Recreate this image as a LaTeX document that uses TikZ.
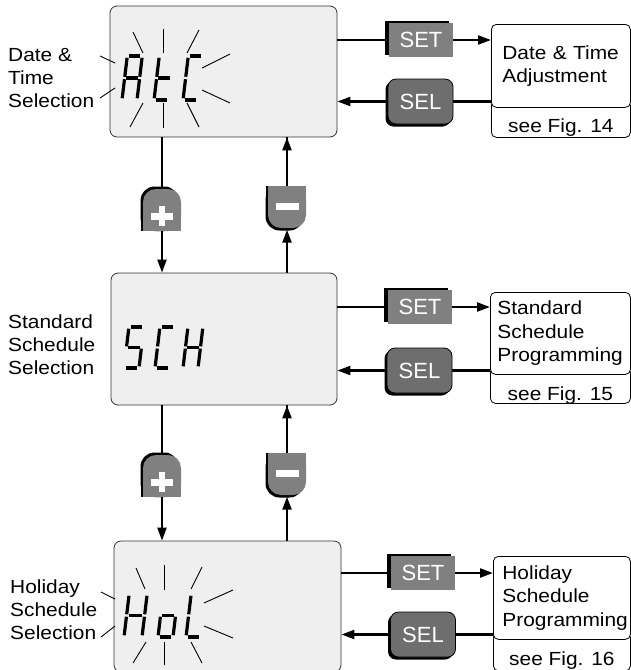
\documentclass[tikz,border=0pt]{standalone}
\usepackage{fontspec}
\setmainfont{Liberation Sans}
\newfontfamily\labfont{Liberation Sans}[FakeStretch=1.1]
\usetikzlibrary{arrows.meta,shadows}
\definecolor{lcdfill}{HTML}{EFEFEF}
\definecolor{btngray}{HTML}{808080}
\definecolor{selgray}{HTML}{6E6E6E}
% seven-segment pieces (local cell 15 x 44, y up = negative)
\newcommand{\segA}{\draw[seg] (1.8,-44) -- (13.2,-44);}
\newcommand{\segB}{\draw[seg] (15,-42.2) -- (15,-23.2);}
\newcommand{\segC}{\draw[seg] (15,-20.8) -- (15,-1.8);}
\newcommand{\segD}{\draw[seg] (1.8,0) -- (13.2,0);}
\newcommand{\segE}{\draw[seg] (0,-1.8) -- (0,-20.8);}
\newcommand{\segF}{\draw[seg] (0,-23.2) -- (0,-42.2);}
\newcommand{\segG}{\draw[seg] (1.8,-22) -- (13.2,-22);}
\newcommand{\sevenseg}[5]{\begin{scope}[shift={(#1,#2)},xslant=0.12,yscale=#3/44,xscale=#4/15]#5\end{scope}}
% plus / minus buttons
\newcommand{\plusbtn}[3]{%
  \begin{scope}[shift={(#2,#3)}]
    \fill[black,rounded corners=14pt] (-21.5,-23.5) rectangle (16.5,21);
    \fill[black] (-21.5,0) rectangle (16.5,21);
    \fill[btngray,rounded corners=13pt] (-19,-21) rectangle (19,21);
    \fill[btngray] (-19,0) rectangle (19,21);
    \fill[white] (-11,3) rectangle (11,9.5);
    \fill[white] (-3,-4) rectangle (3,16);
  \end{scope}
  \node[pmnode] (#1) at (#2,#3) {};}
\newcommand{\minusbtn}[3]{%
  \begin{scope}[shift={(#2,#3)}]
    \fill[black,rounded corners=14pt] (-21.5,-21) rectangle (16.5,23.5);
    \fill[black] (-21.5,-21) rectangle (16.5,0);
    \fill[btngray,rounded corners=13pt] (-19,-21) rectangle (19,21);
    \fill[btngray] (-19,-21) rectangle (19,0);
    \fill[white] (-11.5,-4.5) rectangle (11.5,3);
  \end{scope}
  \node[pmnode] (#1) at (#2,#3) {};}
\begin{document}
\begin{tikzpicture}[x=1pt,y=-1pt,
  lcd/.style={draw=black!80,line width=0.8pt,fill=lcdfill,rounded corners=7pt,inner sep=0pt},
  rbox/.style={draw=black,line width=0.8pt,fill=white,rounded corners=5pt,align=left,
     font=\labfont\fontsize{19}{23.5}\selectfont,anchor=north west,inner ysep=0pt},
  figbox/.style={draw=black,line width=0.8pt,fill=white,rounded corners=5pt,anchor=north west,
     font=\labfont\fontsize{19}{23}\selectfont,inner sep=0pt,text depth=0pt},
  lab/.style={align=left,font=\labfont\fontsize{19}{23}\selectfont,inner sep=0pt,anchor=west},
  conn/.style={line width=2.2pt},
  arr/.style={line width=2.2pt,-{Triangle[length=13pt,width=9pt]}},
  ray/.style={line width=0.9pt},
  seg/.style={line width=3.2pt},
  setbtn/.style={fill=btngray,minimum width=64pt,minimum height=34pt,inner sep=0pt,text=white,
     font=\fontsize{22}{24}\selectfont,general shadow={fill=black,shadow xshift=-4.5pt,shadow yshift=2.5pt}},
  selbtn/.style={fill=selgray,draw=black,line width=0.8pt,rounded corners=8pt,minimum width=65pt,
     minimum height=45pt,inner sep=0pt,text=white,font=\fontsize{22}{24}\selectfont,
     general shadow={fill=black,shadow xshift=-2.5pt,shadow yshift=-2.5pt}},
  pmnode/.style={minimum width=38pt,minimum height=42pt,inner sep=0pt}]
\useasboundingbox (0,0) rectangle (631,670);

% LCD boxes
\node[lcd,minimum width=227pt,minimum height=131pt] (lcd1) at (223.5,71.5) {};
\node[lcd,minimum width=226pt,minimum height=132pt] (lcd2) at (224,339) {};
\node[lcd,minimum width=227pt,minimum height=131pt] (lcd3) at (227.5,606.5) {};

% left labels
\node[lab] (lab1) at (8,78.5) {Date \&\\Time\\Selection};
\node[lab] (lab2) at (8,344.5) {Standard\\Schedule\\Selection};
\node[lab] (lab3) at (10,609.5) {Holiday\\Schedule\\Selection};

% rays RtC
\draw[ray] (133,32) -- (143,53);
\draw[ray] (163,29) -- (163,53);
\draw[ray] (199,30) -- (187,53);
\draw[ray] (202,68) -- (230,54);
\draw[ray] (202,90) -- (230,103);
\draw[ray] (130,127) -- (143,103);
\draw[ray] (163,103) -- (163,128);
\draw[ray] (187,103) -- (199,127);
\draw[ray] (100,56) -- (115,63);
\draw[ray] (100,98) -- (115,88);
% rays HoL
\draw[ray] (136,568) -- (145,589);
\draw[ray] (164,565) -- (164,590);
\draw[ray] (202,567) -- (191,589);
\draw[ray] (204,603) -- (233,590);
\draw[ray] (204,626) -- (233,638);
\draw[ray] (133,663) -- (146,642);
\draw[ray] (164,642) -- (164,665);
\draw[ray] (191,642) -- (202,663);
\draw[ray] (101,592) -- (115,599);
\draw[ray] (101,637) -- (115,626);

% seven segment texts
\sevenseg{122}{100}{44}{15}{\segA\segB\segC\segE\segF\segG}
\sevenseg{154}{100}{44}{15}{\segF\segE\segG\segD}
\sevenseg{183}{100}{44}{15}{\segA\segF\segE\segD}
\sevenseg{124}{368}{41}{15}{\segA\segF\segG\segC\segD}
\sevenseg{155}{368}{41}{15}{\segA\segF\segE\segD}
\sevenseg{183}{368}{41}{15}{\segF\segB\segG\segE\segC}
\sevenseg{124}{637}{43}{18}{\segF\segB\segG\segE\segC}
\sevenseg{158}{637}{43}{15}{\segG\segC\segD\segE}
\sevenseg{186}{637}{43}{15}{\segF\segE\segD}

% right boxes
\node[figbox,minimum width=139pt,minimum height=37pt,text height=27pt] (fig1) at (491,100) {see Fig. 14};
\node[rbox,minimum width=139pt,minimum height=83pt,inner xsep=11pt,text width=117pt] (adj1) at (491,24) {Date \& Time\\Adjustment};
\node[figbox,minimum width=140pt,minimum height=36pt,text height=30pt] (fig2) at (490,367) {see Fig. 15};
\node[rbox,minimum width=140pt,minimum height=82pt,inner xsep=7pt,text width=126pt] (adj2) at (490,292) {Standard\\Schedule\\Programming};
\node[figbox,minimum width=137pt,minimum height=38.5pt,text height=27.5pt] (fig3) at (493,632) {see Fig. 16};
\node[rbox,minimum width=137pt,minimum height=83pt,inner xsep=9pt,text width=119pt] (adj3) at (493,556) {Holiday\\Schedule\\Programming};

% SET / SEL buttons
\coordinate (s1) at (421,40);
\coordinate (l1) at (420.5,101.5);
\coordinate (s2) at (420,307);
\coordinate (l2) at (419.5,370.5);
\coordinate (s3) at (423,573);
\coordinate (l3) at (423,634.5);
\draw[conn] (lcd1.east |- s1) -- (s1);
\draw[conn] (lcd2.east |- s2) -- (s2);
\draw[conn] (lcd3.east |- s3) -- (s3);
\draw[conn] (adj1.west |- l1) -- (l1);
\draw[conn] (adj2.west |- l2) -- (l2);
\draw[conn] (adj3.west |- l3) -- (l3);
\node[setbtn] (set1) at (s1) {SET};
\node[setbtn] (set2) at (s2) {SET};
\node[setbtn] (set3) at (s3) {SET};
\node[selbtn] (sel1) at (l1) {SEL};
\node[selbtn] (sel2) at (l2) {SEL};
\node[selbtn] (sel3) at (l3) {SEL};
\draw[arr] (set1.east) -- (adj1.west |- set1.east);
\draw[arr] (set2.east) -- (adj2.west |- set2.east);
\draw[arr] (set3.east) -- (adj3.west |- set3.east);
\draw[arr] (sel1.west) -- (lcd1.east |- sel1.west);
\draw[arr] (sel2.west) -- (lcd2.east |- sel2.west);
\draw[arr] (sel3.west) -- (lcd3.east |- sel3.west);

% plus / minus
\coordinate (pc1) at (162,210);
\coordinate (mc1) at (287,207);
\coordinate (pc2) at (162,476);
\coordinate (mc2) at (287,474);
\draw[conn] (lcd1.south -| pc1) -- (pc1);
\draw[conn] (lcd2.south -| pc2) -- (pc2);
\draw[conn] (lcd1.south -| mc1) -- (mc1);
\draw[conn] (lcd2.south -| mc2) -- (mc2);
\plusbtn{plus1}{162}{210}
\minusbtn{minus1}{287}{207}
\plusbtn{plus2}{162}{476}
\minusbtn{minus2}{287}{474}
\draw[arr] (plus1.south) -- (lcd2.north -| plus1.south);
\draw[arr] (plus2.south) -- (lcd3.north -| plus2.south);
\draw[arr] (minus1.north) -- (lcd1.south -| minus1.north);
\draw[arr] (minus2.north) -- (lcd2.south -| minus2.north);
\draw[arr] (lcd2.north -| minus1.south) -- ([yshift=-1.5pt]minus1.south);
\draw[arr] (lcd3.north -| minus2.south) -- ([yshift=-1.5pt]minus2.south);
\end{tikzpicture}
\end{document}
